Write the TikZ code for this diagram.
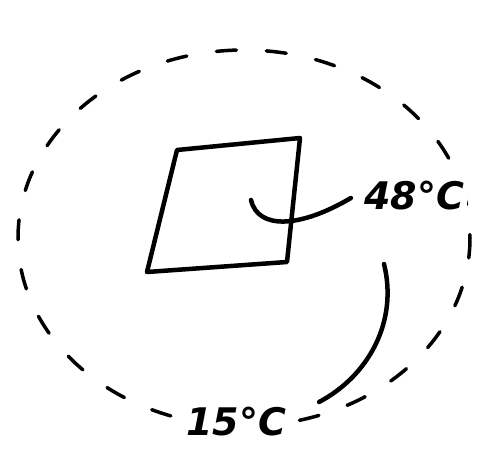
\documentclass[tikz,border=0pt]{standalone}
\usetikzlibrary{calc}
\usepackage{fontspec}
\setmainfont{DejaVu Sans}
\begin{document}
\begin{tikzpicture}[x=1pt,y=-1pt,
  ink/.style={line width=4.5pt,line cap=round,line join=round},
  dashring/.style={line width=3.5pt,line cap=round,dash pattern=on 20pt off 30pt},
  lbl/.style={font=\fontsize{38}{40}\selectfont\bfseries\itshape,inner sep=3pt,fill=white}]
\useasboundingbox (0,0) rectangle (488,455);
% dashed surrounding ring
\draw[dashring] (244,238) ellipse [x radius=226, y radius=188];
% square
\coordinate (a) at (177,150);
\coordinate (b) at (300,138);
\coordinate (c) at (287,262);
\coordinate (d) at (147,272);
\draw[ink] (a) -- (b) -- (c) -- (d) -- cycle;
% labels
\node[lbl] (t48) at (414,196) {48°C};
\node[lbl] (t15) at (236,422) {15°C};
% leader to 48°C
\coordinate (h1) at (251,200);
\draw[ink] (h1) .. controls (258,230) and (300,228) .. ($(t48.west)+(-10,2)$);
% leader to 15°C
\coordinate (p1) at (384,264);
\draw[ink] (p1) .. controls (398,320) and (370,375) .. ($(t15.east)+(30,-20)$);
\end{tikzpicture}
\end{document}
